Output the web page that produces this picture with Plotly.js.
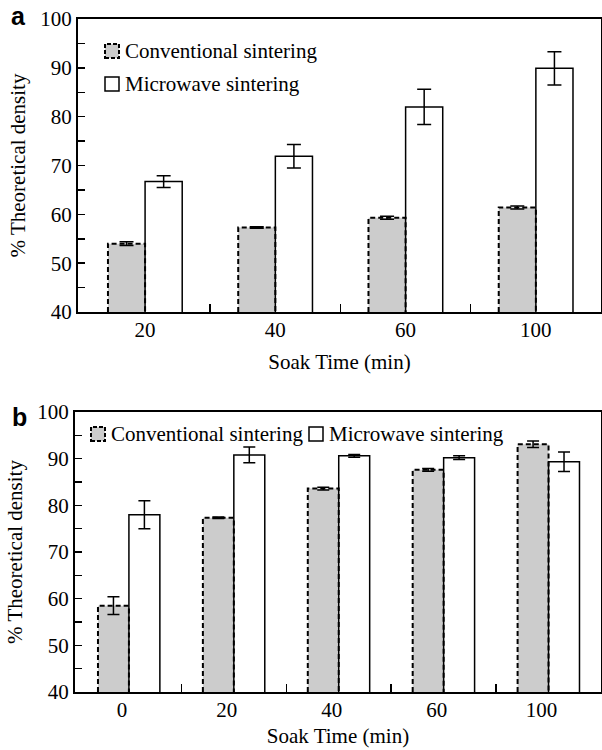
<!DOCTYPE html>
<html><head><meta charset="utf-8">
<script src="https://cdn.plot.ly/plotly-3.0.1.min.js"></script>
<style>html,body{margin:0;padding:0;background:#fff}</style>
</head><body><div id="chart" style="width:602px;height:750px"></div>
<script>
// ---- data ----
const catsA = ['20', '40', '60', '100'];
const convA = [54.0, 57.3, 59.3, 61.4];
const convErrA = [0.4, 0.15, 0.3, 0.3];
const microA = [66.7, 71.9, 82.0, 89.9];
const microErrA = [1.2, 2.4, 3.6, 3.4];

const catsB = ['0', '20', '40', '60', '100'];
const convB = [58.5, 77.35, 83.6, 87.6, 93.1];
const convErrB = [1.9, 0.15, 0.3, 0.3, 0.7];
const microB = [78.0, 90.8, 90.6, 90.2, 89.35];
const microErrB = [3.0, 1.7, 0.3, 0.4, 2.1];

const seriesNames = ['Conventional sintering', 'Microwave sintering'];
const xTitle = 'Soak Time (min)';
const yTitle = '% Theoretical density';
const yMin = 40, yMax = 100;

// ---- styling ----
const W = 602, H = 750;
const px = x => x / W;
const py = y => 1 - y / H;
const FONT = 'Liberation Serif, Times New Roman, serif';
const FS = 21;
const GRAY = '#cccccc';

function idx(a) { return a.map((_, i) => i); }
function outline(vals, w) {
  const xs = [], ys = [];
  vals.forEach((v, i) => {
    xs.push(i - w, i - w, i, i, null);
    ys.push(yMin, v, v, yMin, null);
  });
  return {xs, ys};
}

function panel(cats, conv, convErr, micro, microErr, w, xa, ya, errW) {
  const x = idx(cats);
  const o = outline(conv, w);
  return [
    {type: 'bar', x: x, y: conv, width: w, offset: -w, xaxis: xa, yaxis: ya,
     name: seriesNames[0], showlegend: false,
     marker: {color: GRAY, line: {width: 0}},
     error_y: {type: 'data', array: convErr, visible: true, color: '#000', thickness: 1.5, width: errW}},
    {type: 'bar', x: x, y: micro, width: w, offset: 0, xaxis: xa, yaxis: ya,
     name: seriesNames[1], showlegend: false,
     marker: {color: '#ffffff', line: {width: 1.5, color: '#000'}},
     error_y: {type: 'data', array: microErr, visible: true, color: '#000', thickness: 1.5, width: errW}},
    {type: 'scatter', mode: 'lines', x: o.xs, y: o.ys, xaxis: xa, yaxis: ya,
     showlegend: false, hoverinfo: 'skip', connectgaps: false,
     line: {color: '#000', width: 2, dash: '5px,3px'}}
  ];
}

const data = [].concat(
  panel(catsA, convA, convErrA, microA, microErrA, 0.285, 'x', 'y', 7),
  panel(catsB, convB, convErrB, microB, microErrB, 0.295, 'x2', 'y2', 6)
);

function xaxisDef(cats, dom, range, shift, standoff) {
  const b = [];
  for (let i = 0; i < cats.length - 1; i++) b.push(i + 0.5);
  return {
    domain: dom, range: range, type: 'linear',
    tickmode: 'array', tickvals: idx(cats), ticktext: cats, ticks: '',
    ticklabelshift: shift, ticklabelstandoff: -2,
    minor: {tickmode: 'array', tickvals: b, ticks: 'inside', ticklen: 8, tickwidth: 1.5, tickcolor: '#000'},
    showline: true, linewidth: 2, linecolor: '#000', mirror: true,
    showgrid: false, zeroline: false, fixedrange: true,
    tickfont: {family: FONT, size: FS, color: '#000'},
    title: {text: xTitle, font: {family: FONT, size: FS, color: '#000'}, standoff: standoff}
  };
}
function yaxisDef(dom, anchor) {
  return {
    domain: dom, range: [yMin, yMax], anchor: anchor,
    tickmode: 'linear', tick0: 40, dtick: 10, ticks: 'inside', ticklen: 7, tickwidth: 1.5, tickcolor: '#000',
    minor: {dtick: 5, ticks: 'inside', ticklen: 7, tickwidth: 1.5, tickcolor: '#000'},
    showline: true, linewidth: 2, linecolor: '#000', mirror: true,
    showgrid: false, zeroline: false, fixedrange: true,
    ticklabelstandoff: 0,
    tickfont: {family: FONT, size: FS, color: '#000'},
    title: {text: yTitle, font: {family: FONT, size: FS, color: '#000'}, standoff: 9}
  };
}

const shapes = [];
const annotations = [];
function legendItem(xs, yc, text, conv) {
  const s = 14;
  shapes.push({type: 'rect', xref: 'paper', yref: 'paper',
    x0: px(xs), x1: px(xs + s), y0: py(yc + s / 2), y1: py(yc - s / 2),
    fillcolor: conv ? GRAY : '#ffffff',
    line: {color: '#000', width: conv ? 2 : 1.5, dash: conv ? '4px,2px' : 'solid'}});
  annotations.push({xref: 'paper', yref: 'paper', x: px(xs + s + 4), y: py(yc),
    xanchor: 'left', yanchor: 'middle', showarrow: false, text: text,
    font: {family: FONT, size: FS, color: '#000'}});
}
legendItem(105, 51, seriesNames[0], true);
legendItem(105, 84, seriesNames[1], false);
legendItem(91, 434, seriesNames[0], true);
legendItem(309, 434, seriesNames[1], false);

annotations.push({xref: 'paper', yref: 'paper', x: px(18), y: py(16), xanchor: 'center', yanchor: 'middle',
  showarrow: false, text: '<b>a</b>', font: {family: 'Liberation Sans, Arial, sans-serif', size: 25, color: '#000'}});
annotations.push({xref: 'paper', yref: 'paper', x: px(19), y: py(417), xanchor: 'center', yanchor: 'middle',
  showarrow: false, text: '<b>b</b>', font: {family: 'Liberation Sans, Arial, sans-serif', size: 25, color: '#000'}});

const layout = {
  width: W, height: H,
  margin: {l: 0, r: 0, t: 0, b: 0},
  paper_bgcolor: '#fff', plot_bgcolor: '#fff',
  showlegend: false,
  xaxis: xaxisDef(catsA, [px(78), px(601)], [-0.515, 3.5], 0, 13),
  yaxis: yaxisDef([py(312), py(19)], 'x'),
  xaxis2: Object.assign(xaxisDef(catsB, [px(75), px(601)], [-0.514, 4.5], -7, 7), {anchor: 'y2'}),
  yaxis2: yaxisDef([py(692), py(412)], 'x2'),
  shapes: shapes,
  annotations: annotations
};
layout.xaxis.anchor = 'y';

Plotly.newPlot('chart', data, layout, {staticPlot: true, displayModeBar: false});
</script>
</body></html>
